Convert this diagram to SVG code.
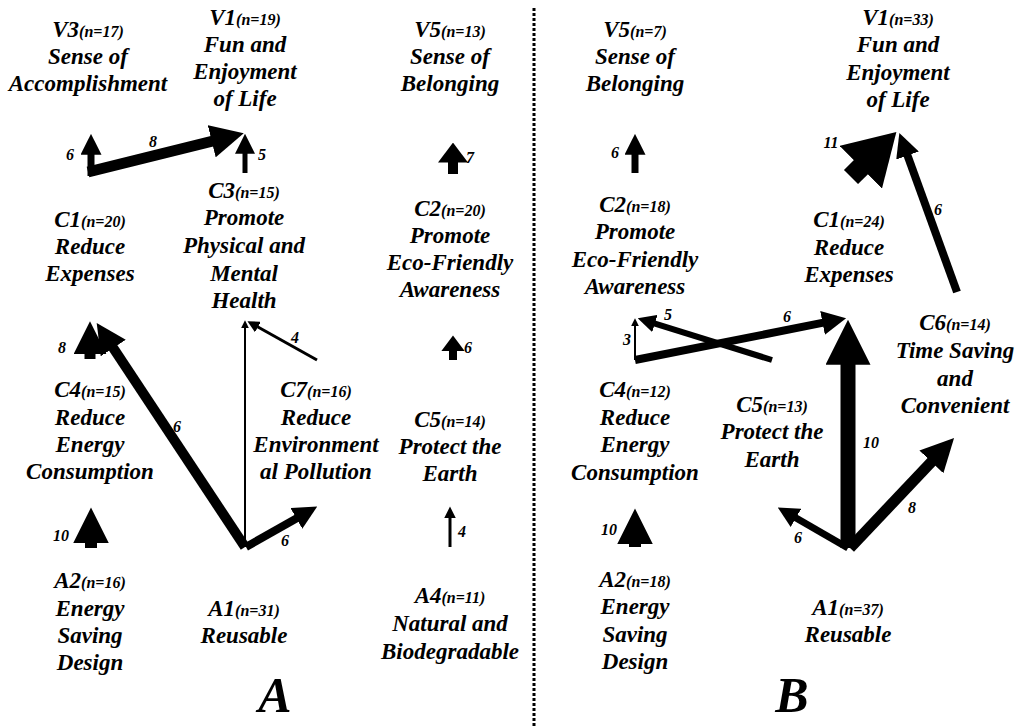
<svg xmlns="http://www.w3.org/2000/svg" width="1015" height="728" viewBox="0 0 1015 728">
<style>
.t{font-family:"Liberation Serif","Times New Roman",serif;font-weight:bold;font-style:italic;font-size:23px;fill:#000;text-anchor:middle}
.n{font-size:16px}
.l{font-family:"Liberation Serif","Times New Roman",serif;font-weight:bold;font-style:italic;font-size:16px;fill:#000;text-anchor:middle}
.big{font-family:"Liberation Serif","Times New Roman",serif;font-weight:bold;font-style:italic;font-size:50px;fill:#000;text-anchor:middle}
.a{stroke:#000;fill:none;stroke-linecap:butt}
.h3{marker-end:url(#h3)}
.h2{marker-end:url(#h2)}
.h4{marker-end:url(#h4)}
.h25{marker-end:url(#h25)}
</style>
<defs>
<marker id="h3" viewBox="0 0 10 10" refX="0.4" refY="5" markerWidth="3" markerHeight="3" orient="auto" markerUnits="strokeWidth"><path d="M0,0 L10,5 L0,10 z" fill="#000"/></marker>
<marker id="h2" viewBox="0 0 20 30" refX="0.6" refY="15" markerWidth="2" markerHeight="3" orient="auto" markerUnits="strokeWidth"><path d="M0,0 L20,15 L0,30 z" fill="#000"/></marker>
<marker id="h4" viewBox="0 0 10 10" refX="0.4" refY="5" markerWidth="4" markerHeight="4" orient="auto" markerUnits="strokeWidth"><path d="M0,0 L10,5 L0,10 z" fill="#000"/></marker>
<marker id="h25" viewBox="0 0 25 30" refX="0.6" refY="15" markerWidth="2.5" markerHeight="3" orient="auto" markerUnits="strokeWidth"><path d="M0,0 L25,15 L0,30 z" fill="#000"/></marker>
</defs>
<rect width="1015" height="728" fill="#fff"/>
<line x1="534" y1="8" x2="534" y2="728" stroke="#000" stroke-width="3" stroke-dasharray="3,2"/>

<!-- Panel A nodes -->
<g id="A-V3"><text class="t"><tspan x="88" y="37">V3<tspan class="n">(n=17)</tspan></tspan><tspan x="88" y="64">Sense of</tspan><tspan x="88" y="91">Accomplishment</tspan></text></g>
<g id="A-V1"><text class="t"><tspan x="245" y="25">V1<tspan class="n">(n=19)</tspan></tspan><tspan x="245" y="52">Fun and</tspan><tspan x="245" y="79">Enjoyment</tspan><tspan x="245" y="106">of Life</tspan></text></g>
<g id="A-V5"><text class="t"><tspan x="450" y="37">V5<tspan class="n">(n=13)</tspan></tspan><tspan x="450" y="64">Sense of</tspan><tspan x="450" y="91">Belonging</tspan></text></g>
<g id="A-C1"><text class="t"><tspan x="90" y="227">C1<tspan class="n">(n=20)</tspan></tspan><tspan x="90" y="254">Reduce</tspan><tspan x="90" y="281">Expenses</tspan></text></g>
<g id="A-C3"><text class="t"><tspan x="244" y="198">C3<tspan class="n">(n=15)</tspan></tspan><tspan x="244" y="225">Promote</tspan><tspan x="244" y="253">Physical and</tspan><tspan x="244" y="281">Mental</tspan><tspan x="244" y="308">Health</tspan></text></g>
<g id="A-C2"><text class="t"><tspan x="450" y="216">C2<tspan class="n">(n=20)</tspan></tspan><tspan x="450" y="243">Promote</tspan><tspan x="450" y="270">Eco-Friendly</tspan><tspan x="450" y="297">Awareness</tspan></text></g>
<g id="A-C4"><text class="t"><tspan x="90" y="397">C4<tspan class="n">(n=15)</tspan></tspan><tspan x="90" y="425">Reduce</tspan><tspan x="90" y="452">Energy</tspan><tspan x="90" y="479">Consumption</tspan></text></g>
<g id="A-C7"><text class="t"><tspan x="316" y="397">C7<tspan class="n">(n=16)</tspan></tspan><tspan x="316" y="425">Reduce</tspan><tspan x="316" y="452">Environment</tspan><tspan x="316" y="479">al Pollution</tspan></text></g>
<g id="A-C5"><text class="t"><tspan x="450" y="427">C5<tspan class="n">(n=14)</tspan></tspan><tspan x="450" y="454">Protect the</tspan><tspan x="450" y="481">Earth</tspan></text></g>
<g id="A-A2"><text class="t"><tspan x="90" y="588">A2<tspan class="n">(n=16)</tspan></tspan><tspan x="90" y="616">Energy</tspan><tspan x="90" y="643">Saving</tspan><tspan x="90" y="670">Design</tspan></text></g>
<g id="A-A1"><text class="t"><tspan x="244" y="616">A1<tspan class="n">(n=31)</tspan></tspan><tspan x="244" y="643">Reusable</tspan></text></g>
<g id="A-A4"><text class="t"><tspan x="450" y="603">A4<tspan class="n">(n=11)</tspan></tspan><tspan x="450" y="631">Natural and</tspan><tspan x="450" y="659">Biodegradable</tspan></text></g>
<g id="A-title"><text class="big" x="275" y="712">A</text></g>

<!-- Panel B nodes -->
<g id="B-V5"><text class="t"><tspan x="635" y="37">V5<tspan class="n">(n=7)</tspan></tspan><tspan x="635" y="64">Sense of</tspan><tspan x="635" y="91">Belonging</tspan></text></g>
<g id="B-V1"><text class="t"><tspan x="898" y="25">V1<tspan class="n">(n=33)</tspan></tspan><tspan x="898" y="52">Fun and</tspan><tspan x="898" y="80">Enjoyment</tspan><tspan x="898" y="107">of Life</tspan></text></g>
<g id="B-C2"><text class="t"><tspan x="635" y="212">C2<tspan class="n">(n=18)</tspan></tspan><tspan x="635" y="239">Promote</tspan><tspan x="635" y="267">Eco-Friendly</tspan><tspan x="635" y="294">Awareness</tspan></text></g>
<g id="B-C1"><text class="t"><tspan x="849" y="227">C1<tspan class="n">(n=24)</tspan></tspan><tspan x="849" y="255">Reduce</tspan><tspan x="849" y="282">Expenses</tspan></text></g>
<g id="B-C6"><text class="t"><tspan x="955" y="330">C6<tspan class="n">(n=14)</tspan></tspan><tspan x="955" y="358">Time Saving</tspan><tspan x="955" y="386">and</tspan><tspan x="955" y="413">Convenient</tspan></text></g>
<g id="B-C4"><text class="t"><tspan x="635" y="397">C4<tspan class="n">(n=12)</tspan></tspan><tspan x="635" y="425">Reduce</tspan><tspan x="635" y="452">Energy</tspan><tspan x="635" y="480">Consumption</tspan></text></g>
<g id="B-C5"><text class="t"><tspan x="772" y="412">C5<tspan class="n">(n=13)</tspan></tspan><tspan x="772" y="439">Protect the</tspan><tspan x="772" y="467">Earth</tspan></text></g>
<g id="B-A2"><text class="t"><tspan x="635" y="587">A2<tspan class="n">(n=18)</tspan></tspan><tspan x="635" y="614">Energy</tspan><tspan x="635" y="642">Saving</tspan><tspan x="635" y="669">Design</tspan></text></g>
<g id="B-A1"><text class="t"><tspan x="848" y="615">A1<tspan class="n">(n=37)</tspan></tspan><tspan x="848" y="642">Reusable</tspan></text></g>
<g id="B-title"><text class="big" x="792" y="712">B</text></g>

<!-- Connectors -->
<g id="connectors">
<line class="a h3" x1="91" y1="176" x2="91" y2="154" stroke-width="7"/>
<line class="a h3" x1="88" y1="172" x2="213" y2="141" stroke-width="11"/>
<line class="a h4" x1="245" y1="173" x2="245" y2="153" stroke-width="5"/>
<line class="a h3" x1="90" y1="359" x2="90" y2="353" stroke-width="11"/>
<line class="a h3" x1="245" y1="547" x2="112.6" y2="347" stroke-width="10"/>
<line class="a h4" x1="245" y1="547" x2="245" y2="328" stroke-width="2"/>
<line class="a h4" x1="317" y1="360" x2="257.5" y2="326.8" stroke-width="3"/>
<line class="a h3" x1="246" y1="547" x2="297.2" y2="517.9" stroke-width="8"/>
<line class="a h3" x1="91" y1="548" x2="91" y2="542" stroke-width="12"/>
<line class="a h2" x1="453" y1="174" x2="453" y2="162" stroke-width="10"/>
<line class="a h2" x1="453" y1="360" x2="453" y2="351" stroke-width="8"/>
<line class="a h4" x1="450" y1="547" x2="450" y2="518" stroke-width="3"/>

<line class="a h3" x1="635" y1="173" x2="635" y2="154" stroke-width="7"/>
<line class="a h25" x1="851" y1="177" x2="861.7" y2="166.4" stroke-width="20"/>
<line class="a h3" x1="957" y1="292" x2="907.2" y2="154.6" stroke-width="8"/>
<line class="a h4" x1="635" y1="360" x2="635" y2="326" stroke-width="2"/>
<line class="a h3" x1="772" y1="360" x2="654.2" y2="323.3" stroke-width="6"/>
<line class="a h3" x1="635" y1="360" x2="823.5" y2="322.7" stroke-width="8"/>
<line class="a h3" x1="848" y1="548" x2="848" y2="363" stroke-width="15"/>
<line class="a h3" x1="848" y1="548" x2="795.2" y2="517.5" stroke-width="7"/>
<line class="a h3" x1="850" y1="548" x2="932.3" y2="461" stroke-width="11"/>
<line class="a h3" x1="635" y1="547" x2="635" y2="543" stroke-width="12"/>

<text class="l" x="70" y="160">6</text>
<text class="l" x="153" y="147">8</text>
<text class="l" x="262" y="160">5</text>
<text class="l" x="62" y="353">8</text>
<text class="l" x="177" y="432">6</text>
<text class="l" x="295" y="343">4</text>
<text class="l" x="285" y="546">6</text>
<text class="l" x="61" y="541">10</text>
<text class="l" x="470" y="163">7</text>
<text class="l" x="468" y="353">6</text>
<text class="l" x="462" y="537">4</text>

<text class="l" x="615" y="158">6</text>
<text class="l" x="831" y="148">11</text>
<text class="l" x="938" y="215">6</text>
<text class="l" x="627" y="345">3</text>
<text class="l" x="668" y="320">5</text>
<text class="l" x="787" y="322">6</text>
<text class="l" x="871" y="448">10</text>
<text class="l" x="798" y="543">6</text>
<text class="l" x="912" y="513">8</text>
<text class="l" x="609" y="535">10</text>
</g>
</svg>
